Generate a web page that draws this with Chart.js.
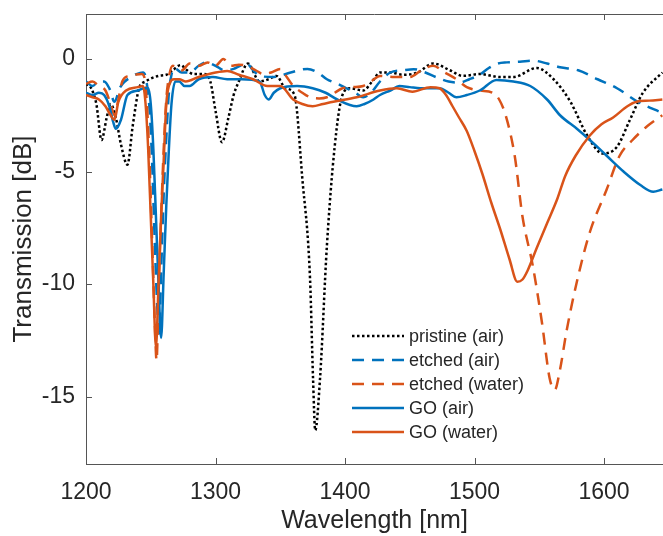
<!DOCTYPE html>
<html>
<head>
<meta charset="utf-8">
<script src="https://cdn.jsdelivr.net/npm/chart.js@4.4.0/dist/chart.umd.min.js"></script>
<style>
  html, body { margin: 0; padding: 0; background: #fff; overflow: hidden; }
</style>
</head>
<body>
<canvas id="grafica" width="663" height="536"></canvas>
<script>
// wavelengths [nm] and transmission [dB]

const pristineNm = [1200, 1204, 1208, 1212, 1216, 1219, 1223, 1227, 1232, 1236, 1241, 1246, 1256, 1262, 1267, 1273, 1278, 1283, 1291, 1296, 1300, 1305, 1310, 1314, 1318, 1325, 1334, 1341, 1347, 1354, 1361, 1367, 1373, 1375.3, 1377, 1380.7, 1386, 1392, 1398, 1404, 1414, 1421, 1427, 1435, 1445, 1456, 1468, 1481, 1491, 1504, 1520, 1530, 1548, 1561, 1574, 1587, 1599, 1610, 1620, 1630, 1645];
const pristineDb = [-1.1, -1.3, -2.0, -3.6, -2.6, -2.0, -2.6, -3.8, -4.7, -3.0, -1.3, -1.0, -0.75, -0.7, -0.5, -0.27, -0.5, -0.67, -0.67, -1.0, -2.3, -3.7, -2.6, -1.6, -1.0, -0.2, -1.0, -0.9, -0.75, -1.3, -1.6, -5.3, -9.8, -14.2, -16.5, -14.2, -8.3, -3.9, -1.6, -1.3, -1.4, -1.0, -0.6, -0.6, -0.7, -0.6, -0.2, -0.5, -0.75, -0.67, -0.8, -0.8, -0.4, -0.9, -1.9, -3.4, -4.2, -3.9, -2.7, -1.5, -0.6];

const etchedAirNm = [1200, 1205, 1210, 1214, 1218, 1222, 1226, 1230, 1235, 1239, 1244, 1246, 1249, 1251, 1253, 1255, 1256.5, 1258, 1260, 1262, 1264, 1266, 1268, 1274, 1280, 1287, 1293, 1300, 1307, 1314, 1319, 1324, 1329, 1334, 1345, 1358, 1371, 1379, 1386, 1394, 1401, 1408, 1414, 1420, 1427, 1435, 1445, 1453, 1462, 1470, 1480, 1488, 1496, 1504, 1511, 1518, 1525, 1535, 1545, 1556, 1566, 1580, 1595, 1610, 1626, 1645];
const etchedAirDb = [-1.0, -1.2, -1.0, -1.0, -1.3, -1.9, -1.3, -1.0, -0.8, -0.67, -0.6, -0.8, -2.2, -4.5, -8.0, -11.0, -12.2, -9.5, -6.0, -3.5, -1.5, -0.7, -0.4, -0.6, -0.6, -0.3, -0.15, -0.3, -0.5, -0.44, -0.3, -0.2, -0.5, -0.75, -0.8, -0.6, -0.44, -0.6, -0.9, -1.1, -1.3, -1.5, -1.7, -1.5, -1.0, -0.6, -0.5, -0.45, -0.6, -0.8, -1.0, -1.05, -0.9, -0.7, -0.4, -0.2, -0.15, -0.12, -0.07, -0.2, -0.37, -0.5, -0.9, -1.3, -1.9, -2.4];

const etchedWaterNm = [1200, 1205, 1210, 1215, 1219, 1222, 1225, 1228, 1233, 1238, 1243, 1245, 1247, 1249, 1251, 1253, 1254.5, 1256, 1258, 1260, 1262, 1264, 1267, 1274, 1280, 1287, 1294, 1300, 1306, 1312, 1318, 1324, 1331, 1337, 1343, 1350, 1355, 1360, 1367, 1373, 1380, 1386, 1392, 1398, 1406, 1414, 1420, 1427, 1438, 1450, 1459, 1468, 1477, 1486, 1494, 1504, 1514, 1519, 1524, 1531, 1537, 1545, 1552, 1558, 1562, 1566, 1571, 1579, 1589, 1602, 1612, 1622, 1633, 1645];
const etchedWaterDb = [-1.1, -1.0, -1.2, -1.4, -2.0, -2.5, -1.8, -1.0, -0.75, -0.7, -0.67, -0.8, -2.0, -4.5, -8.0, -11.5, -13.4, -10.5, -7.0, -4.0, -1.8, -0.8, -0.3, -0.5, -0.2, -0.3, -0.15, -0.3, 0.0, -0.3, -0.25, -0.3, -0.5, -0.67, -0.6, -0.44, -0.8, -1.2, -1.5, -1.7, -1.75, -1.7, -1.5, -1.3, -1.25, -1.2, -1.0, -0.75, -0.8, -0.8, -0.5, -0.3, -0.6, -0.9, -1.25, -1.4, -1.5, -1.8, -2.5, -4.3, -7.0, -9.2, -11.7, -14.2, -14.7, -13.8, -12.1, -9.9, -7.7, -5.8, -4.3, -3.6, -3.0, -2.5];

const goAirNm = [1200, 1205, 1210, 1214, 1218, 1221, 1223, 1227, 1232, 1240, 1245, 1248, 1250, 1252, 1254, 1256, 1258, 1260, 1262, 1264, 1266, 1269, 1272, 1276, 1280, 1287, 1298, 1309, 1320, 1334, 1338, 1341, 1345, 1350, 1363, 1375, 1385, 1394, 1409, 1415, 1422, 1427, 1435, 1442, 1450, 1458, 1466, 1473, 1480, 1486, 1494, 1504, 1517, 1530, 1543, 1556, 1566, 1579, 1589, 1602, 1615, 1628, 1638, 1645];
const goAirDb = [-1.5, -1.6, -1.5, -1.6, -2.1, -2.8, -3.1, -2.7, -1.6, -1.4, -1.3, -1.3, -2.0, -4.0, -7.0, -10.0, -12.4, -9.5, -6.5, -4.0, -2.0, -1.0, -1.0, -1.2, -1.2, -0.9, -0.8, -0.9, -0.9, -1.0, -1.6, -1.8, -1.5, -1.3, -1.2, -1.3, -1.5, -1.8, -2.1, -2.0, -1.8, -1.6, -1.4, -1.2, -1.25, -1.3, -1.3, -1.3, -1.5, -1.7, -1.6, -1.4, -0.93, -1.0, -1.2, -1.8, -2.5, -3.1, -3.6, -4.3, -5.0, -5.6, -5.9, -5.8];

const goWaterNm = [1200, 1205, 1210, 1215, 1219, 1222, 1225, 1231, 1240, 1244, 1246, 1248, 1250, 1252, 1254, 1256, 1258, 1260, 1262, 1264, 1268, 1272, 1277, 1287, 1300, 1309, 1318, 1329, 1340, 1350, 1360, 1367, 1375, 1383, 1391, 1409, 1427, 1440, 1452, 1466, 1473, 1478, 1483, 1488, 1494, 1500, 1506, 1513, 1520, 1527, 1533, 1537, 1541, 1548, 1556, 1564, 1570, 1578, 1589, 1598, 1607, 1618, 1625, 1635, 1645];
const goWaterDb = [-1.6, -1.7, -1.8, -2.1, -2.5, -2.7, -1.9, -1.4, -1.25, -1.2, -2.0, -4.0, -7.0, -10.0, -12.8, -10.0, -7.0, -4.5, -2.0, -1.2, -0.9, -0.9, -1.0, -0.8, -0.6, -0.53, -0.7, -0.9, -1.2, -1.2, -1.8, -2.0, -2.1, -2.0, -1.9, -1.7, -1.4, -1.3, -1.45, -1.25, -1.3, -1.6, -2.1, -2.6, -3.2, -4.1, -5.1, -6.4, -7.6, -8.9, -9.9, -9.8, -9.4, -8.4, -7.3, -6.2, -5.2, -4.3, -3.4, -2.9, -2.6, -2.1, -1.9, -1.85, -1.8];

const xTicks = [1200, 1300, 1400, 1500, 1600];
const yTicks = [-15, -10, -5, 0];

const azul = '#0072BD';
const naranja = '#D95319';
const textoColor = '#262626';
const ejeColor = '#555555';
const fuente = '"Liberation Sans", Arial, sans-serif';

function puntos(xs, ys) {
    return xs.map((v, i) => ({ x: v, y: ys[i] }));
}

// ticks hacia dentro + borde superior, estilo MATLAB
const ejesMatlab = {
    id: 'ejesMatlab',
    afterDraw(chart) {
        const { ctx, chartArea: a, scales: { x, y } } = chart;
        ctx.save();
        ctx.strokeStyle = ejeColor;
        ctx.lineWidth = 1;
        ctx.beginPath();
        ctx.moveTo(a.left, a.top + 0.5);
        ctx.lineTo(chart.width, a.top + 0.5);
        xTicks.forEach(v => {
            const px = Math.round(x.getPixelForValue(v)) + 0.5;
            ctx.moveTo(px, a.bottom); ctx.lineTo(px, a.bottom - 6);
            ctx.moveTo(px, a.top); ctx.lineTo(px, a.top + 6);
        });
        yTicks.forEach(v => {
            const py = Math.round(y.getPixelForValue(v)) + 0.5;
            ctx.moveTo(a.left, py); ctx.lineTo(a.left + 6, py);
        });
        ctx.stroke();
        ctx.restore();
    }
};

// leyenda sin caja dentro del area
const leyendaMatlab = {
    id: 'leyendaMatlab',
    afterDraw(chart) {
        const ctx = chart.ctx;
        ctx.save();
        ctx.font = '18px ' + fuente;
        ctx.textBaseline = 'middle';
        chart.data.datasets.forEach((ds, i) => {
            const yy = 336 + i * 24;
            ctx.strokeStyle = ds.borderColor;
            ctx.lineWidth = ds.borderWidth;
            ctx.setLineDash(ds.borderDash || []);
            ctx.beginPath();
            ctx.moveTo(352, yy);
            ctx.lineTo(404, yy);
            ctx.stroke();
            ctx.setLineDash([]);
            ctx.fillStyle = textoColor;
            ctx.fillText(ds.label, 409, yy + 1.5);
        });
        ctx.restore();
    }
};

function serie(label, xs, ys, color, dash, orden) {
    return {
        label: label,
        data: puntos(xs, ys),
        borderColor: color,
        borderWidth: 2.5,
        borderDash: dash,
        pointRadius: 0,
        cubicInterpolationMode: 'monotone',
        borderCapStyle: 'butt',
        fill: false,
        order: orden
    };
}

const ctx = document.getElementById('grafica').getContext('2d');

new Chart(ctx, {
    type: 'line',
    data: {
        datasets: [
            serie('pristine (air)', pristineNm, pristineDb, '#000000', [2.5, 2.5], 5),
            serie('etched (air)', etchedAirNm, etchedAirDb, azul, [12, 8], 4),
            serie('etched (water)', etchedWaterNm, etchedWaterDb, naranja, [12, 8], 3),
            serie('GO (air)', goAirNm, goAirDb, azul, [], 2),
            serie('GO (water)', goWaterNm, goWaterDb, naranja, [], 1)
        ]
    },
    options: {
        responsive: false,
        animation: false,
        devicePixelRatio: 1,
        layout: { padding: { top: 14, right: 0, left: 0, bottom: 0 } },
        plugins: {
            legend: { display: false },
            tooltip: { enabled: false }
        },
        scales: {
            x: {
                type: 'linear',
                min: 1200,
                max: 1645.5,
                grid: { display: false, drawTicks: false },
                border: { display: true, color: ejeColor, width: 1 },
                afterBuildTicks: s => { s.ticks = xTicks.map(v => ({ value: v })); },
                afterFit: s => { s.height = 72; s.paddingLeft = 0; s.paddingRight = 0; },
                ticks: {
                    color: textoColor,
                    font: { family: fuente, size: 23 },
                    padding: 15,
                    maxRotation: 0,
                    callback: v => String(v)
                },
                title: {
                    display: true,
                    text: 'Wavelength [nm]',
                    color: textoColor,
                    font: { family: fuente, size: 25 },
                    padding: { top: 0, bottom: 0 }
                }
            },
            y: {
                min: -18,
                max: 2,
                grid: { display: false, drawTicks: false },
                border: { display: true, color: ejeColor, width: 1 },
                afterBuildTicks: s => { s.ticks = yTicks.map(v => ({ value: v })); },
                afterFit: s => { s.width = 86; s.paddingTop = 0; s.paddingBottom = 0; },
                ticks: {
                    color: textoColor,
                    font: { family: fuente, size: 23 },
                    padding: 11,
                    callback: v => String(v)
                },
                title: {
                    display: true,
                    text: 'Transmission [dB]',
                    color: textoColor,
                    font: { family: fuente, size: 26 },
                    padding: { top: 8, bottom: 0 }
                }
            }
        }
    },
    plugins: [ejesMatlab, leyendaMatlab]
});
</script>
</body>
</html>
